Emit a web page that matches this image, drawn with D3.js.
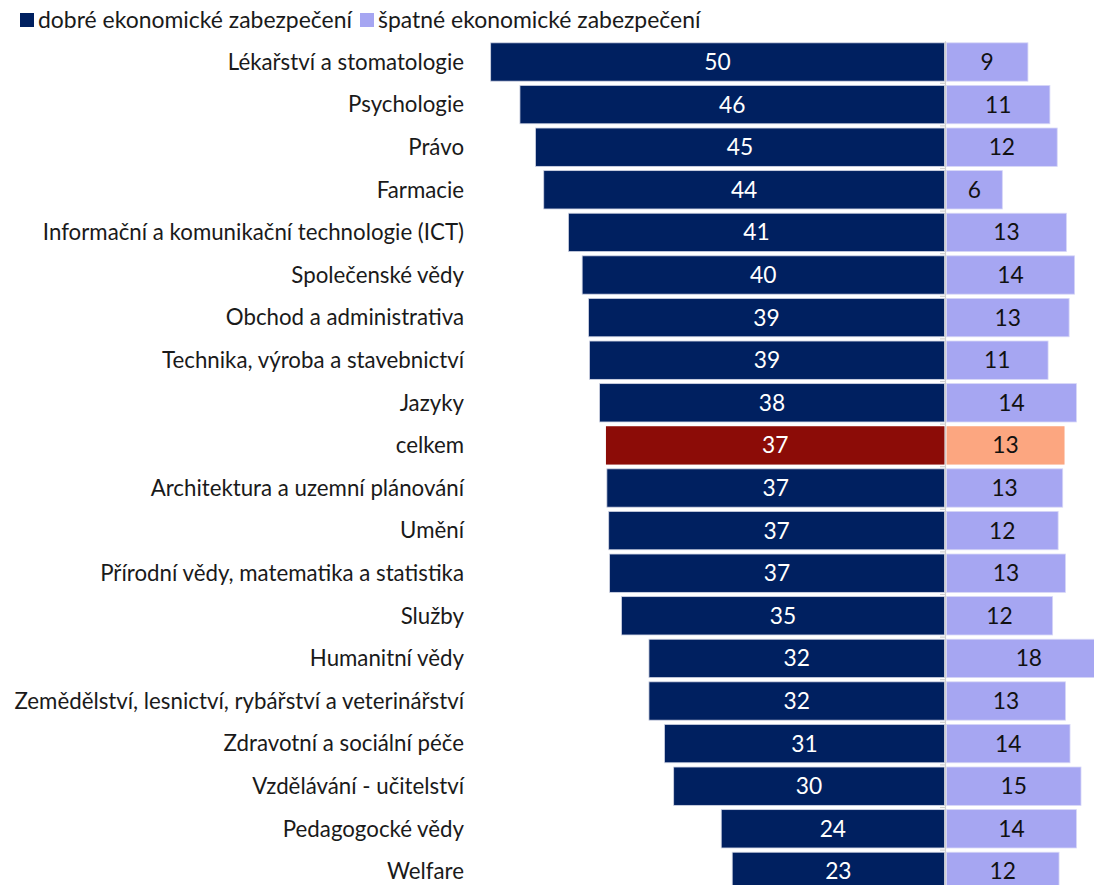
<!DOCTYPE html>
<html>
<head>
<meta charset="utf-8">
<script src="https://cdn.jsdelivr.net/npm/d3@7"></script>
<style>
  html, body { margin: 0; padding: 0; background: #fff; }
  svg { display: block; }
</style>
</head>
<body>
<div id="chart"></div>
<script>
const categories = [
  "Lékařství a stomatologie",
  "Psychologie",
  "Právo",
  "Farmacie",
  "Informační a komunikační technologie (ICT)",
  "Společenské vědy",
  "Obchod a administrativa",
  "Technika, výroba a stavebnictví",
  "Jazyky",
  "celkem",
  "Architektura a uzemní plánování",
  "Umění",
  "Přírodní vědy, matematika a statistika",
  "Služby",
  "Humanitní vědy",
  "Zemědělství, lesnictví, rybářství a veterinářství",
  "Zdravotní a sociální péče",
  "Vzdělávání - učitelství",
  "Pedagogocké vědy",
  "Welfare"
];
const goodValues = [49.6, 46.4, 44.7, 43.8, 41.1, 39.6, 38.9, 38.8, 37.7, 37.0, 36.9, 36.7, 36.6, 35.3, 32.3, 32.3, 30.6, 29.6, 24.4, 23.2];
const badValues  = [8.9, 11.3, 12.1, 6.1, 13.1, 14.0, 13.4, 11.1, 14.2, 12.9, 12.7, 12.2, 13.0, 11.6, 18.0, 13.0, 13.5, 14.7, 14.2, 12.3];
const seriesNames = ["dobré ekonomické zabezpečení", "špatné ekonomické zabezpečení"];
const highlight = "celkem";

const W = 1094, H = 885;
const X0 = 945;
const colGood = "#002060", colBad = "#a6a6f2";
const colGoodHi = "#8c0c07", colBadHi = "#fca680";
const FONT = "Lato, 'Open Sans', sans-serif";

const svg = d3.select("#chart").append("svg").attr("width", W).attr("height", H)
  .style("font-family", FONT);

const xl = d3.scaleLinear().domain([0, 50]).range([X0 - 0.5, X0 - 0.5 - 457.5]);
const xr = d3.scaleLinear().domain([0, 50]).range([X0 + 1.5, X0 + 1.5 + 457.5]);
const y = d3.scaleBand().domain(categories).range([40.7, 892.7]).paddingInner(0.1).paddingOuter(0.05);

// measure font size so longest label fits target width
const probe = svg.append("text").style("font-size", "20px").text(categories[15]);
const wlen = probe.node().getComputedTextLength();
probe.remove();
const fs = 20 * 450 / wlen;

// left bars
svg.append("g").selectAll("rect").data(categories).join("rect")
  .attr("x", (d, i) => xl(goodValues[i]))
  .attr("y", d => y(d))
  .attr("width", (d, i) => xl(0) - xl(goodValues[i]))
  .attr("height", y.bandwidth())
  .attr("fill", d => d === highlight ? colGoodHi : colGood)
  .attr("stroke", d => d === highlight ? "none" : "#cfd3e3")
  .attr("stroke-width", 0.8);

// right bars
svg.append("g").selectAll("rect").data(categories).join("rect")
  .attr("x", xr(0))
  .attr("y", d => y(d))
  .attr("width", (d, i) => xr(badValues[i]) - xr(0))
  .attr("height", y.bandwidth())
  .attr("fill", d => d === highlight ? colBadHi : colBad)
  .attr("stroke", d => d === highlight ? "none" : "#d6d6f7")
  .attr("stroke-width", 0.8);

// axis line with ticks
const axis = d3.axisLeft(y).tickSize(0).tickFormat("");
const ag = svg.append("g").attr("transform", `translate(${X0},0)`).call(axis);
ag.select(".domain").attr("stroke", "#d0d0d0").attr("stroke-width", 1.2);
const bounds = categories.map(c => y(c) - y.step() * y.paddingInner() / 2).slice(1);
ag.selectAll("line.tk").data(bounds).join("line").attr("class", "tk")
  .attr("x1", -5).attr("x2", 0).attr("y1", d => d).attr("y2", d => d)
  .attr("stroke", "#d0d0d0").attr("stroke-width", 1.2);

// category labels
svg.append("g").selectAll("text").data(categories).join("text")
  .attr("x", 464)
  .attr("y", d => y(d) + y.bandwidth() / 2)
  .attr("dy", "0.35em")
  .attr("text-anchor", "end")
  .style("font-size", fs + "px")
  .attr("fill", "#1a1a1a")
  .text(d => d);

const fmt = d3.format(".0f");
// value labels
svg.append("g").selectAll("text").data(categories).join("text")
  .attr("x", (d, i) => (xl(goodValues[i]) + xl(0)) / 2)
  .attr("y", d => y(d) + y.bandwidth() / 2)
  .attr("dy", "0.35em")
  .attr("text-anchor", "middle")
  .style("font-size", (fs + 0.5) + "px")
  .attr("fill", "#ffffff")
  .text((d, i) => fmt(goodValues[i]));

svg.append("g").selectAll("text").data(categories).join("text")
  .attr("x", (d, i) => (xr(badValues[i]) + xr(0)) / 2)
  .attr("y", d => y(d) + y.bandwidth() / 2)
  .attr("dy", "0.35em")
  .attr("text-anchor", "middle")
  .style("font-size", (fs + 0.5) + "px")
  .attr("fill", "#111111")
  .text((d, i) => fmt(badValues[i]));

// legend
const lfs = fs * 1.03;
const lg = svg.append("g").attr("transform", "translate(20,20)");
let lx = 0;
seriesNames.forEach((name, i) => {
  lg.append("rect").attr("x", lx).attr("y", -7).attr("width", 14).attr("height", 14)
    .attr("fill", i === 0 ? colGood : colBad);
  const t = lg.append("text").attr("x", lx + 18).attr("y", 0).attr("dy", "0.35em")
    .style("font-size", lfs + "px").attr("fill", "#1a1a1a").text(name);
  lx += 18 + t.node().getComputedTextLength() + 8;
});
</script>
</body>
</html>
